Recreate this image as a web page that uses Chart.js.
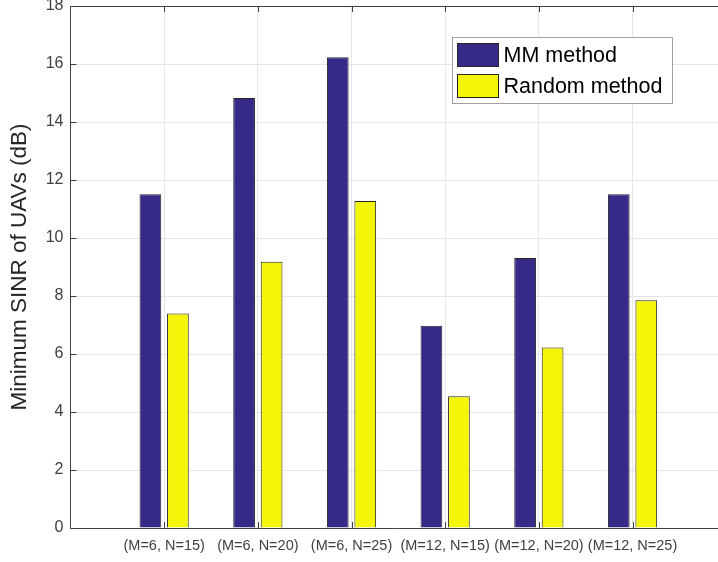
<!DOCTYPE html>
<html>
<head>
<meta charset="utf-8">
<script src="https://cdn.jsdelivr.net/npm/chart.js@4/dist/chart.umd.min.js"></script>
<style>
  html, body { margin: 0; padding: 0; background: #ffffff; }
  #wrap { width: 718px; height: 562px; position: relative; }
</style>
</head>
<body>
<div id="wrap"><canvas id="c"></canvas></div>
<script>
const categories = ['(M=6, N=15)', '(M=6, N=20)', '(M=6, N=25)', '(M=12, N=15)', '(M=12, N=20)', '(M=12, N=25)'];
const mmValues = [11.51, 14.83, 16.23, 6.97, 9.31, 11.51];
const randomValues = [7.40, 9.18, 11.28, 4.54, 6.22, 7.85];
const seriesNames = ['MM method', 'Random method'];
const yTicks = [0, 2, 4, 6, 8, 10, 12, 14, 16, 18];

const FONT = "'Liberation Sans', Arial, Helvetica, sans-serif";
const AXIS_COLOR = '#404040';

const framePlugin = {
  id: 'frame',
  afterDatasetsDraw(chart) {
    const ctx = chart.ctx;
    const ca = chart.chartArea;
    const xs = chart.scales.x, ys = chart.scales.y;
    ctx.save();
    ctx.strokeStyle = AXIS_COLOR;
    ctx.lineWidth = 1;
    ctx.beginPath();
    ctx.moveTo(ca.left, Math.round(ca.top) + 0.5);
    ctx.lineTo(ca.right, Math.round(ca.top) + 0.5);
    for (let i = 1; i <= categories.length; i++) {
      const px = Math.round(xs.getPixelForValue(i)) + 0.5;
      ctx.moveTo(px, ca.top);
      ctx.lineTo(px, ca.top + 6);
      ctx.moveTo(px, ca.bottom);
      ctx.lineTo(px, ca.bottom - 6);
    }
    yTicks.forEach(v => {
      const py = Math.round(ys.getPixelForValue(v)) + 0.5;
      ctx.moveTo(ca.left, py);
      ctx.lineTo(ca.left + 6, py);
    });
    ctx.stroke();
    ctx.restore();
  },
  afterDraw(chart) {
    const ctx = chart.ctx;
    const ca = chart.chartArea;
    const boxW = 220, boxH = 66;
    const bx = Math.round(ca.right - 46 - boxW) + 0.5;
    const by = Math.round(ca.top + 31) + 0.5;
    ctx.save();
    ctx.fillStyle = '#ffffff';
    ctx.fillRect(bx, by, boxW, boxH);
    ctx.strokeStyle = '#a0a0a0';
    ctx.lineWidth = 1;
    ctx.strokeRect(bx, by, boxW, boxH);
    chart.data.datasets.forEach((ds, i) => {
      const sy = by + 6 + i * 31;
      ctx.fillStyle = ds.backgroundColor;
      ctx.fillRect(bx + 5, sy, 41, 23);
      ctx.strokeStyle = '#262626';
      ctx.strokeRect(bx + 5, sy, 41, 23);
      ctx.fillStyle = '#000000';
      ctx.font = '21.5px ' + FONT;
      ctx.textBaseline = 'middle';
      ctx.textAlign = 'left';
      ctx.fillText(ds.label, bx + 51, sy + 12.5);
    });
    ctx.restore();
  }
};

const ctx = document.getElementById('c').getContext('2d');
new Chart(ctx, {
  type: 'bar',
  data: {
    datasets: [
      {
        label: seriesNames[0],
        data: mmValues.map((v, i) => ({ x: i + 1, y: v })),
        backgroundColor: '#352a87',
        borderColor: '#262626',
        borderWidth: 1,
        categoryPercentage: 0.587,
        barPercentage: 0.79
      },
      {
        label: seriesNames[1],
        data: randomValues.map((v, i) => ({ x: i + 1, y: v })),
        backgroundColor: '#f5f50a',
        borderColor: '#262626',
        borderWidth: 1,
        categoryPercentage: 0.587,
        barPercentage: 0.79
      }
    ]
  },
  options: {
    responsive: true,
    maintainAspectRatio: false,
    animation: false,
    events: [],
    layout: { padding: { top: 6, right: 0, left: 0, bottom: 0 } },
    plugins: {
      legend: { display: false },
      tooltip: { enabled: false }
    },
    scales: {
      x: {
        type: 'linear',
        min: 0,
        max: (categories.length + 1) * 0.9875,
        offset: false,
        grid: { color: '#e6e6e6', drawTicks: false, offset: false },
        border: { color: AXIS_COLOR, width: 1 },
        ticks: {
          stepSize: 1,
          includeBounds: false,
          autoSkip: false,
          maxRotation: 0,
          padding: 9,
          color: '#404040',
          font: { family: FONT, size: 14.5 },
          callback: (v) => (Number.isInteger(v) && v >= 1 && v <= categories.length) ? categories[v - 1] : ''
        },
        afterFit: (s) => { s.height = 34; s.paddingLeft = 0; s.paddingRight = 0; }
      },
      y: {
        min: 0,
        max: 18,
        grid: { color: '#e6e6e6', drawTicks: false },
        border: { color: AXIS_COLOR, width: 1 },
        ticks: {
          stepSize: 2,
          padding: 7,
          color: '#404040',
          font: { family: FONT, size: 16 }
        },
        title: {
          display: true,
          text: 'Minimum SINR of UAVs (dB)',
          color: '#262626',
          font: { family: FONT, size: 22.5 },
          padding: { top: 6, bottom: 0 }
        },
        afterFit: (s) => { s.width = 70.5; s.paddingTop = 0; s.paddingBottom = 0; }
      }
    }
  },
  plugins: [framePlugin]
});
</script>
</body>
</html>
